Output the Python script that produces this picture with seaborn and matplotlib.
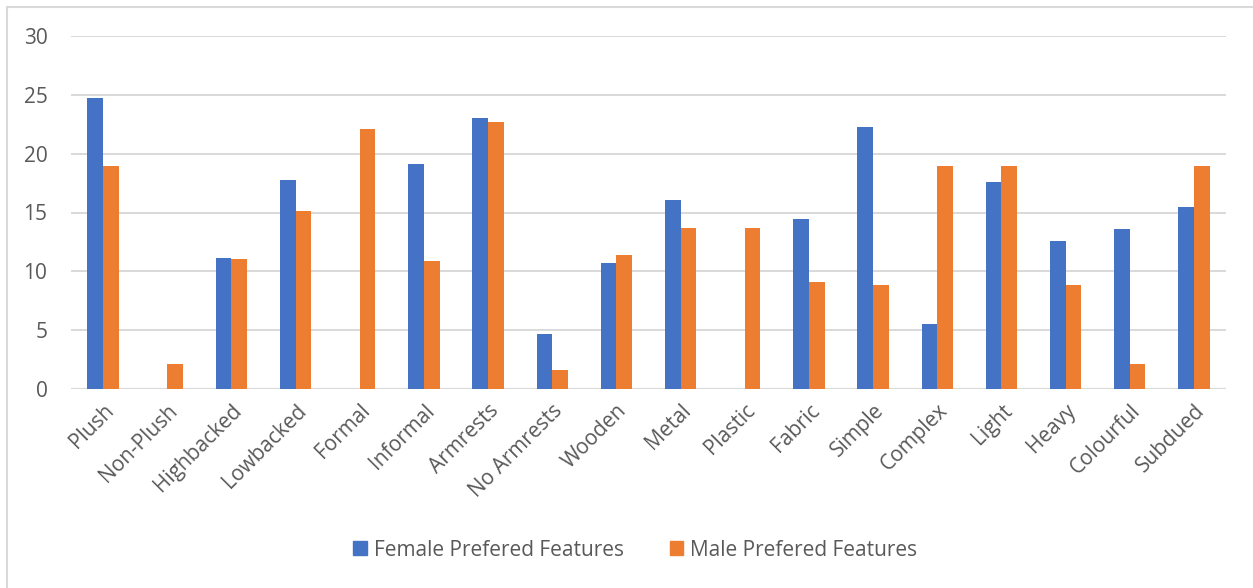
import matplotlib
matplotlib.use("Agg")
import matplotlib.pyplot as plt
import seaborn as sns
import pandas as pd
from matplotlib.patches import Rectangle

categories = ["Plush", "Non-Plush", "Highbacked", "Lowbacked", "Formal", "Informal",
              "Armrests", "No Armrests", "Wooden", "Metal", "Plastic", "Fabric",
              "Simple", "Complex", "Light", "Heavy", "Colourful", "Subdued"]
female = [24.74, 0, 11.12, 17.80, 0, 19.08, 23.01, 4.64, 10.70, 16.10, 0, 14.46,
          22.28, 5.55, 17.63, 12.62, 13.59, 15.45]
male = [18.94, 2.12, 11.04, 15.14, 22.10, 10.84, 22.73, 1.58, 11.38, 13.67, 13.67, 9.09,
        8.83, 18.94, 18.94, 8.83, 2.12, 18.94]
series_names = ["Female Prefered Features", "Male Prefered Features"]
colors = ["#4472C4", "#ED7D31"]

df = pd.DataFrame({
    "feature": categories * 2,
    "value": female + male,
    "group": [series_names[0]] * len(categories) + [series_names[1]] * len(categories),
})

sns.set_theme(style="white")
plt.rcParams["font.family"] = ["Open Sans", "DejaVu Sans"]
text_color = "#595959"

fig = plt.figure(figsize=(12.53, 5.88), dpi=100)
ax = fig.add_axes([71 / 1253, 1 - 389 / 588, (1226 - 71) / 1253, (389 - 36) / 588])

sns.barplot(data=df, x="feature", y="value", hue="group", palette=colors,
            width=0.49, ax=ax, legend=False, saturation=1, linewidth=0)

ax.set_ylim(0, 30)
ax.set_xlim(-0.5, len(categories) - 0.5)
ax.set_yticks(range(0, 31, 5))
ax.grid(axis="y", color="#d9d9d9", linewidth=1.4)
ax.set_axisbelow(True)
for s in ax.spines.values():
    s.set_visible(False)
ax.axhline(0, color="#d9d9d9", linewidth=1.6, zorder=0.5)
ax.set_xlabel("")
ax.set_ylabel("")
ax.tick_params(axis="both", length=0, colors=text_color, labelsize=15)
ax.tick_params(axis="y", pad=17)
ax.set_xticks(range(len(categories)))
ax.set_xticklabels(categories, rotation=45, ha="right", rotation_mode="anchor")
ax.tick_params(axis="x", pad=8)

handles = [Rectangle((0, 0), 1, 1, color=c) for c in colors]
fig.legend(handles, series_names, loc="center", bbox_to_anchor=(0.507, 1 - 550 / 588),
           ncol=2, frameon=False, fontsize=15, labelcolor=text_color,
           handlelength=0.65, handleheight=0.65, handletextpad=0.35, columnspacing=2.2)

# chart border
fig.patches.append(Rectangle((7 / 1253, -0.05), 1.1, 1 - 7 / 588 + 0.05,
                             transform=fig.transFigure, fill=False,
                             edgecolor="#d9d9d9", linewidth=1.5))

fig.savefig("out.png", dpi=100)
